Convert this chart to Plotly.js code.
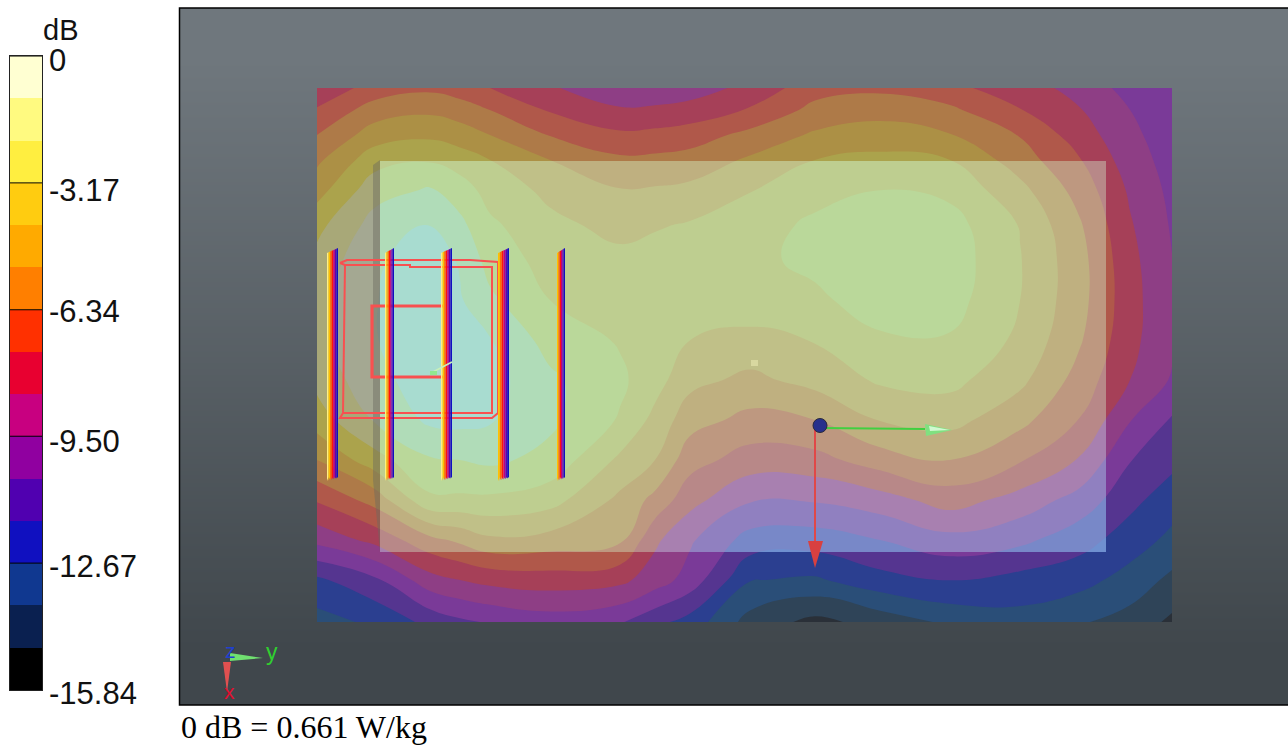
<!DOCTYPE html>
<html><head><meta charset="utf-8">
<script src="https://cdn.plot.ly/plotly-3.0.1.min.js"></script>
<style>html,body{margin:0;padding:0;background:#fff}#chart{width:1288px;height:747px}</style>
</head><body><div id="chart"></div>
<script>
// ---- data ----
const scaleMin = -15.84, scaleMax = 0;
const bandTops = [0,-1.056,-2.112,-3.168,-4.224,-5.28,-6.336,-7.392,-8.448,-9.504,-10.56,-11.616,-12.672,-13.728,-14.784];
const bandHeights = [1.056,1.056,1.056,1.056,1.056,1.056,1.056,1.056,1.056,1.056,1.056,1.056,1.056,1.056,1.056];
const barColors = ['#FFFFD2','#FFFA80','#FFEE40','#FFCC10','#FFAA00','#FF7F00','#FF3000','#E80030','#C80080','#9000A0','#5000B0','#1010C0','#103890','#0A2050','#000000'];
// field colours listed from the lowest band (-15.84) up to the top band (0)
const fieldColors = ['#2A3038','#2F4458','#2A4E78','#2B3F90','#553590','#7A3A98','#8E3E85','#A64058','#B0584A','#AE7A48','#AC9045','#ABA34C','#A8A878','#A4A892','#8FA8A0'];
// the same bands as they look through the translucent plate
const plateColors = ['#5A7AB0','#5A7AB0','#5A7AB0','#6F90D0','#7888C8','#9080C0','#A880B0','#B88888','#BE9880','#BFB080','#C0C088','#BECE90','#BAD89A','#B0DCB8','#A8DCD0'];
const tickVals = [0,-3.17,-6.34,-9.50,-12.67,-15.84];
const tickLabels = ['0','-3.17','-6.34','-9.50','-12.67','-15.84'];
const tickShift = [4,8,2,5,3,3];
const fieldX = [317,375,430,460,490,550,620,655,690,750,815,880,950,1020,1080,1130,1172];
const fieldY = [88,110,135,160,190,225,260,300,340,380,420,460,500,540,580,622];
const row088 = [-8.13,-6.97,-6.55,-6.86,-7.39,-8.34,-9.08,-9.19,-8.98,-8.13,-6.76,-6.55,-7.08,-8.03,-8.76,-9.93,-10.35];
const row110 = [-7.29,-5.81,-5.49,-5.81,-6.34,-7.50,-8.34,-8.24,-8.03,-7.29,-6.02,-5.70,-6.12,-7.34,-8.40,-9.50,-10.24];
const row135 = [-6.34,-4.75,-4.44,-4.75,-5.28,-6.39,-7.18,-7.08,-6.86,-6.02,-5.12,-4.75,-5.23,-6.39,-7.92,-9.24,-10.08];
const row160 = [-5.49,-3.59,-3.27,-3.70,-4.22,-5.28,-6.12,-6.07,-5.91,-5.12,-4.22,-3.96,-4.22,-5.81,-7.34,-8.98,-9.93];
const row190 = [-4.65,-2.53,-2.01,-2.64,-3.59,-4.49,-5.23,-5.17,-5.02,-4.28,-3.54,-3.17,-3.43,-4.96,-6.76,-8.61,-9.77];
const row225 = [-3.48,-1.69,-1.00,-1.85,-2.96,-3.96,-4.54,-4.33,-4.12,-3.64,-2.96,-2.64,-2.75,-4.28,-6.23,-8.34,-9.61];
const row260 = [-2.85,-1.21,-0.53,-1.16,-2.53,-3.59,-3.96,-3.80,-3.70,-3.43,-2.90,-2.43,-2.59,-4.17,-5.97,-8.13,-9.48];
const row300 = [-2.43,-1.11,-0.32,-0.95,-1.90,-3.17,-3.48,-3.54,-3.70,-3.59,-3.38,-2.64,-2.75,-4.22,-5.97,-8.03,-9.40];
const row340 = [-2.43,-1.11,-0.32,-0.63,-1.00,-2.53,-3.27,-3.59,-4.22,-4.54,-4.17,-3.33,-3.27,-4.44,-6.23,-8.13,-9.35];
const row380 = [-2.85,-1.37,-0.53,-0.42,-0.63,-1.90,-2.96,-3.80,-4.96,-5.54,-4.91,-4.07,-3.91,-5.02,-6.76,-8.45,-9.61];
const row420 = [-3.70,-2.01,-0.84,-0.74,-0.95,-1.90,-3.27,-4.54,-5.91,-6.65,-6.34,-5.23,-4.91,-6.02,-7.44,-9.45,-10.67];
const row460 = [-5.28,-3.59,-2.22,-2.11,-1.90,-2.43,-4.44,-5.28,-6.97,-7.87,-7.76,-6.86,-6.34,-7.29,-8.55,-10.51,-11.30];
const row500 = [-7.29,-5.91,-3.38,-3.38,-3.38,-3.80,-5.54,-6.65,-8.08,-9.40,-9.40,-8.92,-7.97,-8.87,-9.93,-11.30,-12.20];
const row540 = [-9.19,-8.13,-6.65,-6.12,-5.49,-5.70,-6.12,-8.24,-9.35,-10.98,-11.09,-10.56,-9.87,-10.30,-11.19,-12.14,-12.94];
const row580 = [-11.83,-10.77,-8.87,-8.45,-8.13,-7.92,-8.18,-8.98,-9.93,-12.62,-12.83,-11.99,-11.56,-11.99,-12.30,-13.09,-13.99];
const row622 = [-13.09,-12.46,-11.30,-10.77,-10.45,-10.03,-10.45,-11.30,-12.04,-14.15,-15.10,-14.36,-13.52,-13.09,-13.62,-14.15,-15.00];
const bgEdgesX = [180,734,1288];
const bgEdgesY = [8,100,200,300,400,500,600,705];
const bgShade = [0.97,0.83,0.68,0.53,0.37,0.21,0.05];
const rodLeft = [327,385,441,498,557];
const rodWidth = [11,9,11,11,8];
const rodStripes = ['#FFF080','#FFC000','#FF7000','#FF1010','#C00080','#6000B0','#1010C0'];
const rodFirstStripe = [0,0,0,1,1];
const caption = '0 dB = 0.661 W/kg';

// ---- traces ----
const stepScale = cols => cols.flatMap((c,i)=>[[i/cols.length,c],[(i+1)/cols.length,c]]);
const fieldZ = [row088,row110,row135,row160,row190,row225,row260,row300,row340,row380,row420,row460,row500,row540,row580,row622];
const contourOf = (cols,extra) => Object.assign({type:'contour',x:fieldX,y:fieldY,z:fieldZ,zmin:scaleMin,zmax:scaleMax,autocontour:false,showscale:false,hoverinfo:'skip',
  colorscale:stepScale(cols),line:{width:0,smoothing:1.3},
  contours:{start:scaleMin+1.056,end:scaleMax-1.056,size:1.056,coloring:'fill',showlines:false}},extra);
const traces = [
 {type:'heatmap',x:bgEdgesX,y:bgEdgesY,z:bgShade.map(v=>[v,v]),zsmooth:'best',zmin:0,zmax:1,showscale:false,hoverinfo:'skip',
  colorscale:[[0,'#3D4449'],[1,'#71797F']]},
 contourOf(fieldColors,{}),
 contourOf(plateColors,{xaxis:'x3',yaxis:'y3'}),
 {type:'bar',xaxis:'x2',yaxis:'y2',x:bandHeights.map(()=>0.5),y:bandHeights.map(h=>-h),base:bandTops,width:1,
  marker:{color:barColors,line:{width:0}},showlegend:false,hoverinfo:'skip'},
 {type:'scatter',xaxis:'x3',yaxis:'y3',mode:'lines',x:[820,925],y:[428,429],line:{color:'#40D040',width:2},hoverinfo:'skip',showlegend:false},
 {type:'scatter',xaxis:'x3',yaxis:'y3',mode:'lines',x:[815,815],y:[430,545],line:{color:'#E04848',width:2},hoverinfo:'skip',showlegend:false},
 {type:'scatter',xaxis:'x3',yaxis:'y3',mode:'markers',x:[820],y:[425.5],marker:{size:14,color:'#27308C',line:{color:'#2A2A3A',width:1}},hoverinfo:'skip',showlegend:false}
];

// ---- decoration ----
const poly = (pts,fill,opacity) => ({type:'path',xref:'x',yref:'y',layer:'above',path:'M'+pts.map(p=>p.join(',')).join('L')+'Z',fillcolor:fill,opacity:opacity===undefined?1:opacity,line:{width:0}});
const seg = (pts,color,w) => ({type:'path',xref:'x',yref:'y',layer:'above',path:'M'+pts.map(p=>p.join(',')).join('L'),line:{color:color,width:w}});
const boxRed = '#F85050';
const shapes = [
 poly([[373,165],[380,160],[380,552],[373,480]],'#6A6A60',0.45),
 seg([[340,263],[347,260],[470,260],[498,262],[498,413],[492,418],[340,418],[343,413],[492,413],[492,267],[410,267],[410,265],[345,265],[343,413]],boxRed,2),
 seg([[340,263],[345,265]],boxRed,2),
 seg([[443,306],[372,306],[372,377],[443,377]],boxRed,3.2)
];
rodLeft.forEach((lx,r)=>{
  const cols = rodStripes.slice(rodFirstStripe[r]);
  const w = rodWidth[r]/cols.length;
  cols.forEach((c,i)=>{
    const t = s => 253 - 5*(s/cols.length);
    const a=i, b=i+1;
    shapes.push(poly([[lx+a*w,t(a)],[lx+b*w,t(b)],[lx+b*w,477],[lx+a*w,481-3*(a/cols.length)]],c));
  });
});
shapes.push(
 seg([[431,373],[452,362]],'#C8F0B8',1.5),
 poly([[430,371],[437,371],[437,375],[430,375]],'#90E890'),
 poly([[751,360],[758,360],[758,366],[751,366]],'#D8D8A0'),
 poly([[925,424],[952,430],[926,436]],'#80E080'),
 poly([[929,426],[950,430],[930,431]],'#D0F8D0'),
 poly([[808,541],[823,541],[815,568]],'#D84040'),
 poly([[230,653],[230,661],[263,658]],'#70E070'),
 poly([[223,662],[231,662],[227,692]],'#E05050'),
 {type:'rect',xref:'x',yref:'y',layer:'above',x0:179.5,x1:1289,y0:8,y1:705,line:{color:'#000000',width:1.5}}
);
tickVals.forEach(v=>{
  shapes.push({type:'line',xref:'paper',yref:'y2',layer:'above',x0:10/1288,x1:42/1288,y0:v,y1:v,line:{color:'#000',width:1}});
});

const labelFont = {family:'Liberation Sans, Arial, sans-serif',size:31,color:'#111'};
const annotations = tickVals.map((v,i)=>({xref:'paper',yref:'y2',x:47/1288,y:v,yshift:-tickShift[i],xanchor:'left',yanchor:'middle',showarrow:false,text:tickLabels[i],font:labelFont}));
annotations.push(
 {xref:'x',yref:'y',x:41,y:30,xanchor:'left',yanchor:'middle',showarrow:false,text:'dB',font:{family:labelFont.family,size:29,color:'#111'}},
 {xref:'x',yref:'y',x:179,y:727,xanchor:'left',yanchor:'middle',showarrow:false,text:caption,font:{family:'Liberation Serif, Times New Roman, serif',size:32,color:'#000'}},
 {xref:'x',yref:'y',x:230,y:650,showarrow:false,text:'z',font:{family:'Liberation Sans, sans-serif',size:21,color:'#2040D0'}},
 {xref:'x',yref:'y',x:272,y:652,showarrow:false,text:'y',font:{family:'Liberation Sans, sans-serif',size:23,color:'#30D030'}},
 {xref:'x',yref:'y',x:229,y:691,showarrow:false,text:'x',font:{family:'Liberation Sans, sans-serif',size:21,color:'#E01030'}}
);

const layout = {
 width:1288,height:747,margin:{l:0,r:0,t:0,b:0},paper_bgcolor:'#fff',plot_bgcolor:'rgba(0,0,0,0)',showlegend:false,bargap:0,
 xaxis:{range:[0,1288],domain:[0,1],visible:false,fixedrange:true},
 yaxis:{range:[747,0],domain:[0,1],visible:false,fixedrange:true},
 xaxis2:{range:[0,1],domain:[10/1288,42/1288],anchor:'y2',showgrid:false,zeroline:false,showticklabels:false,ticks:'',showline:true,mirror:true,linecolor:'#222',linewidth:1,fixedrange:true},
 yaxis2:{range:[scaleMin,scaleMax],domain:[1-690/747,1-56/747],anchor:'x2',showgrid:false,zeroline:false,showticklabels:false,ticks:'',showline:true,mirror:true,linecolor:'#222',linewidth:1,fixedrange:true},
 xaxis3:{range:[380,1106],domain:[380/1288,1106/1288],anchor:'y3',visible:false,fixedrange:true},
 yaxis3:{range:[552,161],domain:[1-552/747,1-161/747],anchor:'x3',visible:false,fixedrange:true},
 shapes:shapes,annotations:annotations
};
Plotly.newPlot('chart',traces,layout,{displayModeBar:false,responsive:false,staticPlot:true});
</script></body></html>
